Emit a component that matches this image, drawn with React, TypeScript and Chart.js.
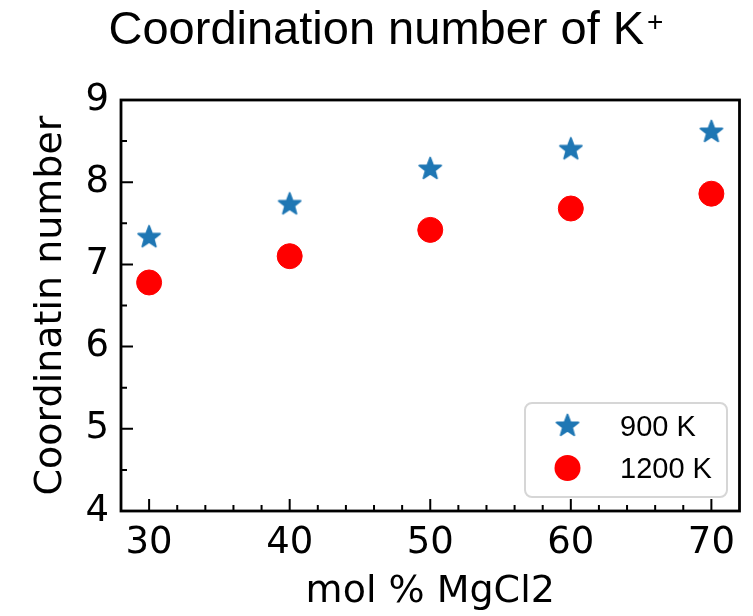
import React, { useEffect, useRef } from 'react';
import { Chart, registerables } from 'chart.js';

Chart.register(...registerables);

const molPercent = [30, 40, 50, 60, 70];
const cn900K = [7.33, 7.73, 8.16, 8.4, 8.61];
const cn1200K = [6.78, 7.1, 7.42, 7.68, 7.86];
const seriesLabels = ['900 K', '1200 K'];
const xMajorTicks = [30, 40, 50, 60, 70];
const xMinorTicks = [32, 34, 36, 38, 42, 44, 46, 48, 52, 54, 56, 58, 62, 64, 66, 68];
const yMajorTicks = [4, 5, 6, 7, 8, 9];
const yMinorTicks = [4.5, 5.5, 6.5, 7.5, 8.5];
const titleMain = 'Coordination number of K';
const titleSup = '+';
const xTitle = 'mol % MgCl2';
const yTitle = 'Coordinatin number';

function makeStar(color: string): HTMLCanvasElement {
  const c = document.createElement('canvas');
  c.width = 30;
  c.height = 30;
  const g = c.getContext('2d')!;
  const cx = 15, cy = 15, R = 11.5, r = 11.5 * 0.42;
  g.beginPath();
  for (let i = 0; i < 10; i++) {
    const ang = -Math.PI / 2 + (i * Math.PI) / 5;
    const rad = i % 2 === 0 ? R : r;
    const px = cx + rad * Math.cos(ang);
    const py = cy + rad * Math.sin(ang);
    if (i === 0) g.moveTo(px, py); else g.lineTo(px, py);
  }
  g.closePath();
  g.fillStyle = color;
  g.strokeStyle = color;
  g.lineWidth = 1.8;
  g.lineJoin = 'round';
  g.fill();
  g.stroke();
  return c;
}

export default function App() {
  const ref = useRef<HTMLCanvasElement | null>(null);

  useEffect(() => {
    if (!ref.current) return;
    const starColor = '#1f77b4';
    const circleColor = '#ff0000';
    const star = makeStar(starColor);

    const decorPlugin = {
      id: 'decor',
      afterDatasetsDraw(chart: any) {
        const { ctx, chartArea: a, scales } = chart;
        const x = scales.x, y = scales.y;
        ctx.save();
        ctx.strokeStyle = '#000';
        ctx.lineWidth = 2;
        ctx.beginPath();
        for (const v of xMajorTicks) {
          const px = x.getPixelForValue(v);
          ctx.moveTo(px, a.bottom);
          ctx.lineTo(px, a.bottom - 12);
        }
        for (const v of xMinorTicks) {
          const px = x.getPixelForValue(v);
          ctx.moveTo(px, a.bottom);
          ctx.lineTo(px, a.bottom - 6);
        }
        for (const v of yMajorTicks) {
          const py = y.getPixelForValue(v);
          ctx.moveTo(a.left, py);
          ctx.lineTo(a.left + 12, py);
        }
        for (const v of yMinorTicks) {
          const py = y.getPixelForValue(v);
          ctx.moveTo(a.left, py);
          ctx.lineTo(a.left + 6, py);
        }
        ctx.stroke();
        ctx.lineWidth = 2.8;
        ctx.strokeRect(a.left, a.top, a.right - a.left, a.bottom - a.top);
        ctx.restore();
      },
      afterDraw(chart: any) {
        const { ctx } = chart;
        ctx.save();
        // Title
        ctx.fillStyle = '#000';
        ctx.textBaseline = 'alphabetic';
        ctx.textAlign = 'left';
        ctx.font = '47px "Liberation Sans", Arial, sans-serif';
        const w1 = ctx.measureText(titleMain).width;
        ctx.font = '28px "Liberation Sans", Arial, sans-serif';
        const w2 = ctx.measureText(titleSup).width;
        const total = w1 + 3 + w2;
        const start = 386 - total / 2;
        ctx.font = '47px "Liberation Sans", Arial, sans-serif';
        ctx.fillText(titleMain, start, 44);
        ctx.font = '28px "Liberation Sans", Arial, sans-serif';
        ctx.fillText(titleSup, start + w1 + 3, 31);

        // Legend
        const bx = 525, by = 403, bw = 202, bh = 94;
        ctx.beginPath();
        ctx.roundRect(bx, by, bw, bh, 7);
        ctx.fillStyle = 'rgba(255,255,255,0.8)';
        ctx.fill();
        ctx.strokeStyle = '#d6d6d6';
        ctx.lineWidth = 2;
        ctx.stroke();
        ctx.font = '29px "Liberation Sans", Arial, sans-serif';
        ctx.textBaseline = 'middle';
        ctx.fillStyle = '#000';
        chart.data.datasets.forEach((ds: any, i: number) => {
          const my = 426 + i * 42;
          const mx = 567.5;
          if (ds.pointStyle === 'circle') {
            ctx.beginPath();
            ctx.arc(mx, my, 13, 0, Math.PI * 2);
            ctx.fillStyle = ds.backgroundColor;
            ctx.fill();
          } else {
            ctx.drawImage(ds.pointStyle, mx - ds.pointStyle.width / 2, my - ds.pointStyle.height / 2);
          }
          ctx.fillStyle = '#000';
          ctx.fillText(ds.label, 620, my + 2);
        });
        ctx.restore();
      },
    };

    const chart = new Chart(ref.current, {
      type: 'scatter',
      data: {
        datasets: [
          {
            label: seriesLabels[0],
            data: molPercent.map((m, i) => ({ x: m, y: cn900K[i] })),
            pointStyle: star as any,
            backgroundColor: starColor,
            borderColor: starColor,
            pointRadius: 12,
          },
          {
            label: seriesLabels[1],
            data: molPercent.map((m, i) => ({ x: m, y: cn1200K[i] })),
            pointStyle: 'circle',
            backgroundColor: circleColor,
            borderColor: circleColor,
            borderWidth: 1,
            pointRadius: 12.5,
          },
        ],
      },
      options: {
        responsive: false,
        animation: false,
        layout: { padding: { top: 100, right: 12, left: 0, bottom: 0 } },
        plugins: {
          legend: { display: false },
          title: { display: false },
          tooltip: { enabled: false },
        },
        scales: {
          x: {
            type: 'linear',
            min: 28,
            max: 72,
            grid: { display: false, drawTicks: false },
            border: { display: false },
            afterBuildTicks: (s: any) => {
              s.ticks = xMajorTicks.map((v) => ({ value: v }));
            },
            afterFit: (s: any) => {
              s.height = 105;
              s.paddingLeft = 0;
              s.paddingRight = 0;
            },
            ticks: {
              color: '#000',
              padding: 10,
              maxRotation: 0,
              font: { family: '"DejaVu Sans"', size: 37 },
            },
            title: {
              display: true,
              text: xTitle,
              color: '#000',
              padding: { top: 0, bottom: 1 },
              font: { family: '"DejaVu Sans"', size: 38 },
            },
          },
          y: {
            type: 'linear',
            min: 4,
            max: 9,
            grid: { display: false, drawTicks: false },
            border: { display: false },
            afterBuildTicks: (s: any) => {
              s.ticks = yMajorTicks.map((v) => ({ value: v }));
            },
            afterFit: (s: any) => {
              s.width = 121;
              s.paddingTop = 0;
              s.paddingBottom = 0;
            },
            ticks: {
              color: '#000',
              padding: 12,
              font: { family: '"DejaVu Sans"', size: 37 },
            },
            title: {
              display: true,
              text: yTitle,
              color: '#000',
              padding: { top: 28, bottom: 0 },
              font: { family: '"DejaVu Sans"', size: 38 },
            },
          },
        },
      },
      plugins: [decorPlugin],
    });
    return () => chart.destroy();
  }, []);

  return (
    <div style={{ position: 'fixed', left: 0, top: 0, width: 753, height: 616, background: '#fff' }}>
      <canvas ref={ref} width={753} height={616} style={{ display: 'block' }} />
    </div>
  );
}
